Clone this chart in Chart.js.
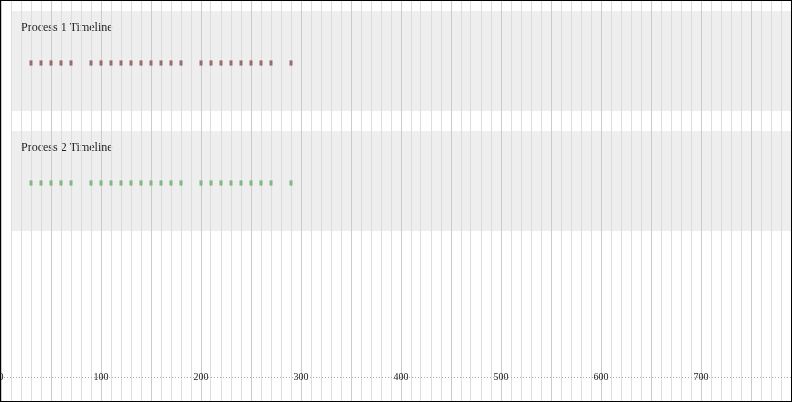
<!DOCTYPE html>
<html>
<head>
<meta charset="utf-8">
<script src="https://cdn.jsdelivr.net/npm/chart.js@4.4.1/dist/chart.umd.min.js"></script>
<style>
  html, body { margin: 0; padding: 0; background: #fff; }
  #wrap { width: 790px; height: 400px; border: 1px solid #000; position: relative; }
  canvas { display: block; }
</style>
</head>
<body>
<div id="wrap"><canvas id="c" width="790" height="400"></canvas></div>
<script>
// ---- data ----
const processNames = ['Process 1 Timeline', 'Process 2 Timeline'];
const process1Times = [30, 40, 50, 60, 70, 90, 100, 110, 120, 130, 140, 150, 160, 170, 180, 200, 210, 220, 230, 240, 250, 260, 270, 290];
const process2Times = [30, 40, 50, 60, 70, 90, 100, 110, 120, 130, 140, 150, 160, 170, 180, 200, 210, 220, 230, 240, 250, 260, 270, 290];
const tickLabels = [0, 100, 200, 300, 400, 500, 600, 700];
const processColors = ['#9b6b6b', '#80b880'];
const xMin = 0, xMax = 790;
const bandStart = 10;
const axisRow = 2.6167;

const series = [process1Times, process2Times];

const datasets = series.map((times, row) => ({
  label: processNames[row],
  data: times.map(t => ({ x: t, y: row })),
  pointStyle: 'line',
  rotation: 90,
  radius: 2.6,
  hoverRadius: 2.6,
  borderWidth: 3,
  borderColor: processColors[row],
  backgroundColor: processColors[row],
  showLine: false
}));

const serifFont = '"Liberation Serif", "Times New Roman", serif';

const bandsPlugin = {
  id: 'bands',
  beforeDraw(chart) {
    const { ctx, scales: { x, y }, chartArea } = chart;
    ctx.save();
    processNames.forEach((name, row) => {
      const top = y.getPixelForValue(row - 0.4333);
      const bottom = y.getPixelForValue(row + 0.4);
      const left = x.getPixelForValue(bandStart);
      ctx.fillStyle = '#eeeeee';
      ctx.fillRect(left, top, chartArea.right - left, bottom - top);
      ctx.fillStyle = '#222';
      ctx.font = '12px ' + serifFont;
      ctx.textBaseline = 'alphabetic';
      ctx.textAlign = 'left';
      ctx.fillText(name, x.getPixelForValue(bandStart) + 10, y.getPixelForValue(row - 0.2667));
    });
    ctx.restore();
  },
  afterDraw(chart) {
    const { ctx, scales: { x, y }, chartArea } = chart;
    const ay = Math.round(y.getPixelForValue(axisRow)) + 0.5;
    ctx.save();
    ctx.strokeStyle = '#aaaaaa';
    ctx.lineWidth = 1;
    ctx.setLineDash([1, 2]);
    ctx.beginPath();
    ctx.moveTo(chartArea.left, ay);
    ctx.lineTo(chartArea.right, ay);
    ctx.stroke();
    ctx.setLineDash([]);
    ctx.fillStyle = '#222';
    ctx.font = '10px ' + serifFont;
    ctx.textAlign = 'center';
    ctx.textBaseline = 'middle';
    tickLabels.forEach(v => {
      ctx.fillText(String(v), x.getPixelForValue(v), ay);
    });
    ctx.restore();
  }
};

new Chart(document.getElementById('c'), {
  type: 'scatter',
  data: { datasets },
  options: {
    responsive: false,
    animation: false,
    events: [],
    layout: { padding: 0, autoPadding: false },
    plugins: { legend: { display: false }, tooltip: { enabled: false } },
    scales: {
      x: {
        type: 'linear',
        min: xMin,
        max: xMax,
        position: { y: axisRow },
        grid: {
          drawTicks: false,
          color: c => (c.tick && c.tick.value % 50 === 0) ? '#cbcbcb' : '#dddddd'
        },
        border: { display: false },
        ticks: {
          display: false,
          stepSize: 10,
          autoSkip: false,
          maxRotation: 0
        }
      },
      y: {
        type: 'linear',
        display: false,
        reverse: true,
        min: -0.5167,
        max: 2.8167
      }
    }
  },
  plugins: [bandsPlugin]
});
</script>
</body>
</html>
